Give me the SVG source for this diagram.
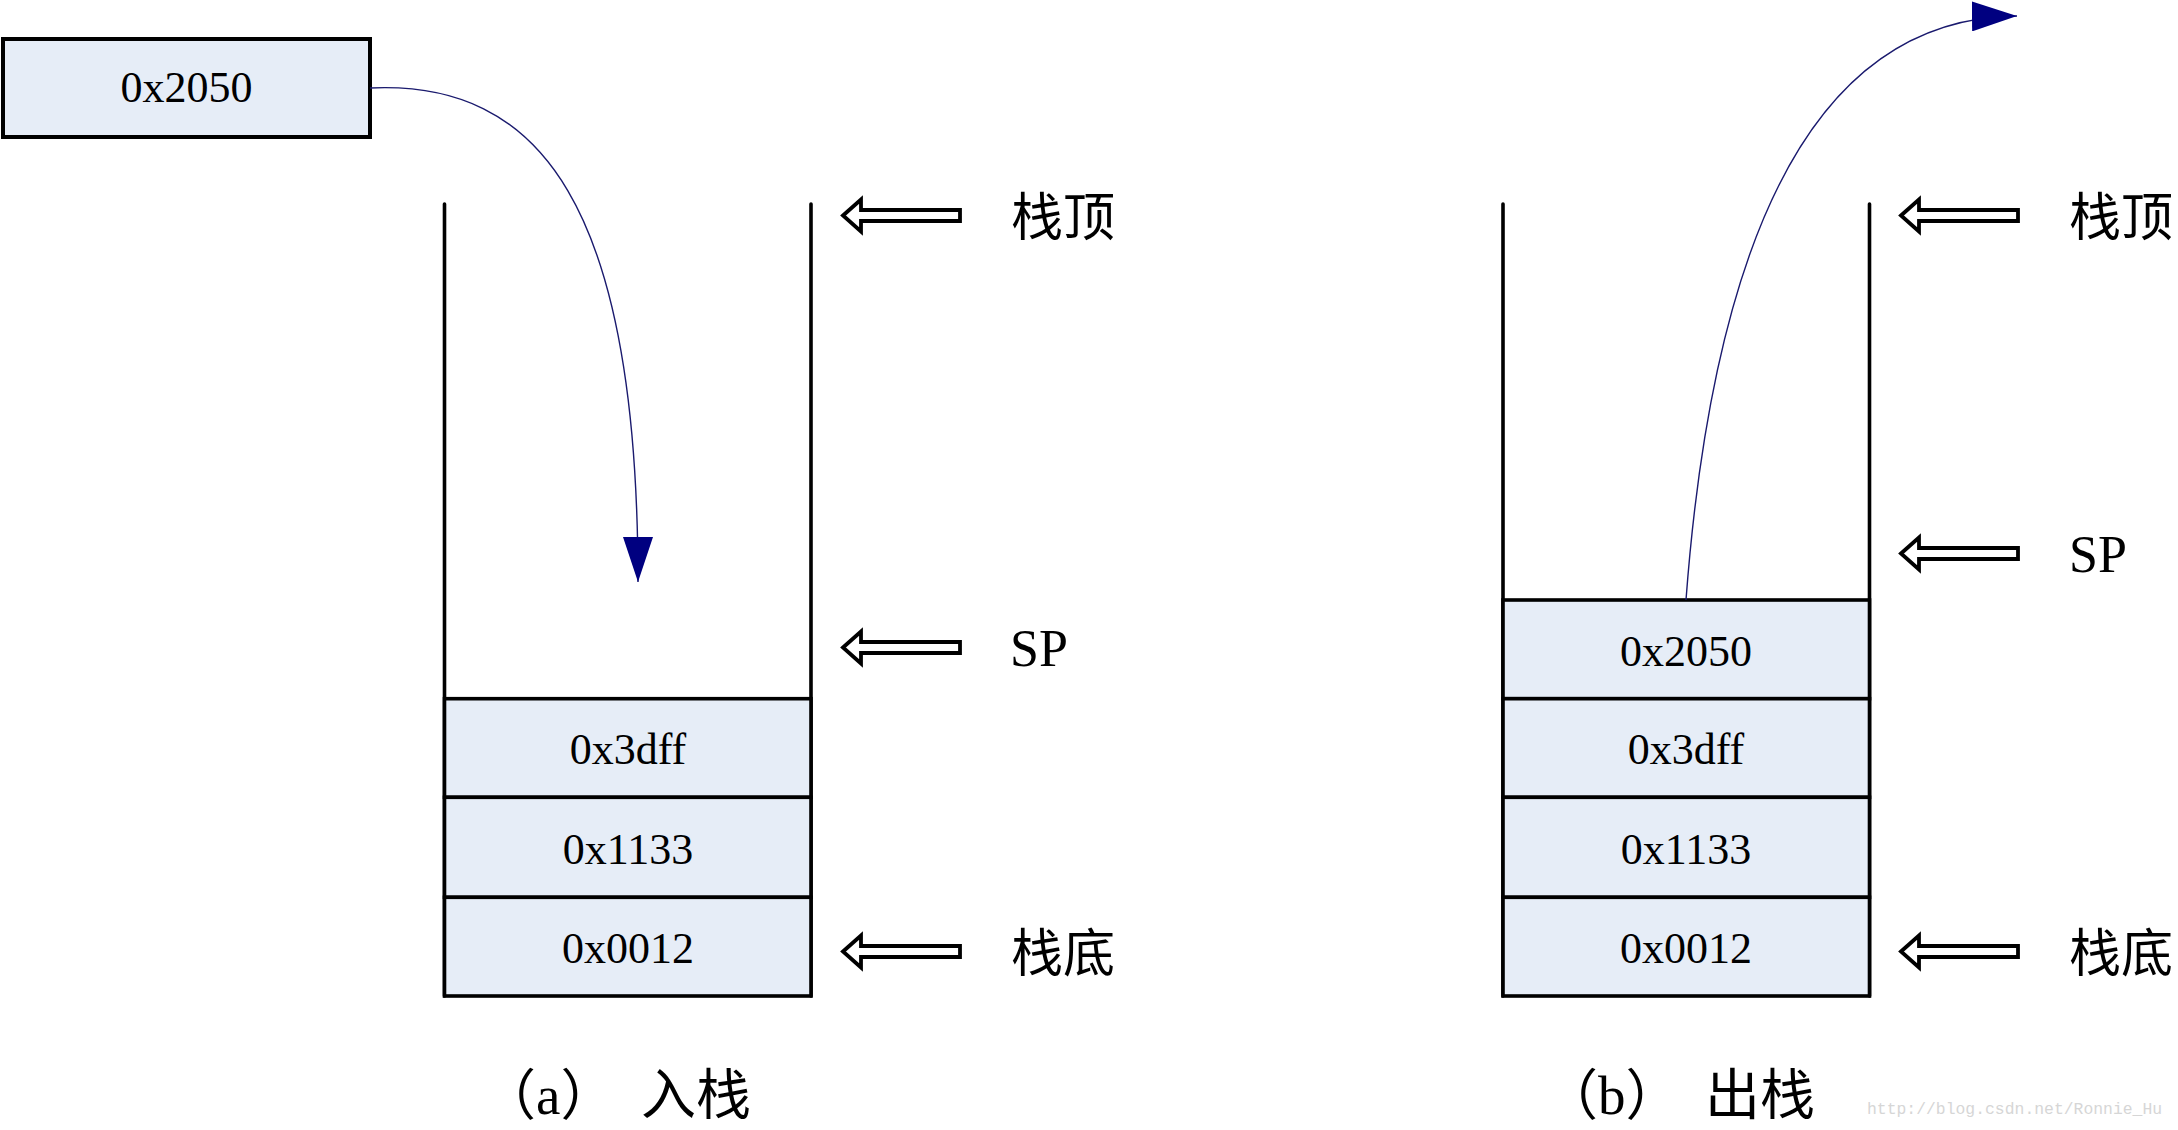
<svg xmlns="http://www.w3.org/2000/svg" width="2178" height="1130" viewBox="0 0 2178 1130">
  <defs>
    <style>
      .cell { fill: #e6edf7; stroke: #000; stroke-width: 3.6; }
      .wall { fill: none; stroke: #000; stroke-width: 3.6; stroke-linecap: round; }
      .val { font-family: "Liberation Serif", serif; font-size: 44px; fill: #000; text-anchor: middle; }
      .lbl { font-family: "Liberation Serif", "Noto Sans CJK SC", serif; font-size: 52px; fill: #000; }
      .cap { font-family: "Liberation Serif", "Noto Sans CJK SC", serif; font-size: 55px; fill: #000; }
      .ptr { fill: #fff; stroke: #000; stroke-width: 3.8; stroke-linejoin: miter; }
      .conn { fill: none; stroke: #1a1a6e; stroke-width: 1.4; }
      .wm { font-family: "Liberation Mono", monospace; font-size: 16.4px; fill: #d6d6d6; }
    </style>
    <marker id="ah" viewBox="0 0 45 30" refX="45" refY="15" markerWidth="45" markerHeight="30" markerUnits="userSpaceOnUse" orient="auto">
      <path d="M0,0 L45,15 L0,30 Z" fill="#000080"/>
    </marker>
    <path id="ptrShape" d="M0,0 L18,-16 L18,-5.5 L117,-5.5 L117,5.5 L18,5.5 L18,16 Z"/>
  </defs>
  <rect width="2178" height="1130" fill="#fff"/>

  <!-- incoming value -->
  <g id="push-value">
    <rect x="3" y="39" width="367" height="98" fill="#e6edf7" stroke="#000" stroke-width="4"/>
    <text class="val" x="186.5" y="102">0x2050</text>
  </g>

  <!-- (a) push stack -->
  <g id="stack-a">
    <path class="wall" d="M444.5,204 V996 M811,204 V996"/>
    <g id="a-cell-3dff"><rect class="cell" x="444.5" y="698.7" width="366.5" height="98.6"/><text class="val" x="628" y="764">0x3dff</text></g>
    <g id="a-cell-1133"><rect class="cell" x="444.5" y="797.3" width="366.5" height="100"/><text class="val" x="628" y="863.5">0x1133</text></g>
    <g id="a-cell-0012"><rect class="cell" x="444.5" y="897.3" width="366.5" height="98.7"/><text class="val" x="628" y="963">0x0012</text></g>
  </g>
  <g id="a-top-ptr"><use href="#ptrShape" class="ptr" transform="translate(843,215.5)"/><text class="lbl" x="1011" y="236">栈顶</text></g>
  <g id="a-sp-ptr"><use href="#ptrShape" class="ptr" transform="translate(843,647.5)"/><text class="lbl" x="1010" y="666">SP</text></g>
  <g id="a-bottom-ptr"><use href="#ptrShape" class="ptr" transform="translate(843,951.5)"/><text class="lbl" x="1011" y="972">栈底</text></g>
  <g id="caption-a"><text class="cap" x="481" y="1114">（a）<tspan x="641">入栈</tspan></text></g>

  <!-- (b) pop stack -->
  <g id="stack-b">
    <path class="wall" d="M1503,204 V996 M1869.5,204 V996"/>
    <g id="b-cell-2050"><rect class="cell" x="1503" y="600" width="366.5" height="98.7"/><text class="val" x="1686" y="665.5">0x2050</text></g>
    <g id="b-cell-3dff"><rect class="cell" x="1503" y="698.7" width="366.5" height="98.6"/><text class="val" x="1686" y="764">0x3dff</text></g>
    <g id="b-cell-1133"><rect class="cell" x="1503" y="797.3" width="366.5" height="100"/><text class="val" x="1686" y="863.5">0x1133</text></g>
    <g id="b-cell-0012"><rect class="cell" x="1503" y="897.3" width="366.5" height="98.7"/><text class="val" x="1686" y="963">0x0012</text></g>
  </g>
  <g id="b-top-ptr"><use href="#ptrShape" class="ptr" transform="translate(1901,215.5)"/><text class="lbl" x="2069" y="236">栈顶</text></g>
  <g id="b-sp-ptr"><use href="#ptrShape" class="ptr" transform="translate(1901,553.5)"/><text class="lbl" x="2069" y="572">SP</text></g>
  <g id="b-bottom-ptr"><use href="#ptrShape" class="ptr" transform="translate(1901,951.5)"/><text class="lbl" x="2069" y="972">栈底</text></g>
  <g id="caption-b"><text class="cap" x="1543" y="1114">（b）<tspan x="1705">出栈</tspan></text></g>

  <!-- connectors -->
  <g id="connectors">
    <path class="conn" d="M370,88 C540,80 638,205 638,582" marker-end="url(#ah)"/>
    <path class="conn" d="M1686,600 C1710,280 1795,18 2017,16" marker-end="url(#ah)"/>
  </g>

  <text class="wm" x="1867" y="1114">http://blog.csdn.net/Ronnie_Hu</text>
</svg>
